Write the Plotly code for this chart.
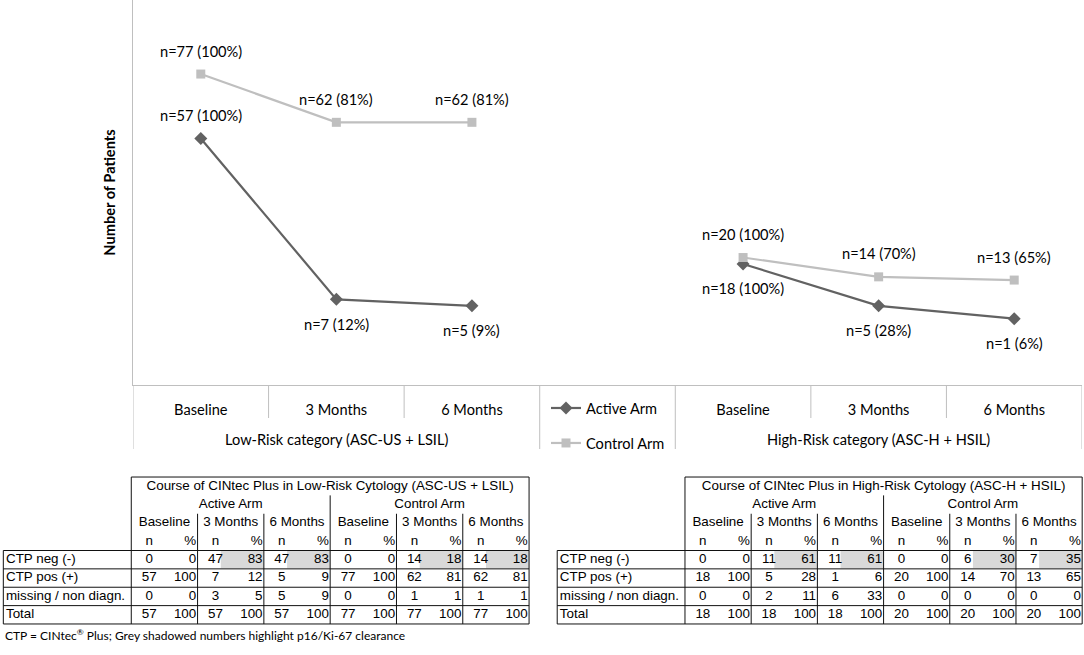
import plotly.graph_objects as go

# ---- chart data ----
timepoints = ["Baseline", "3 Months", "6 Months"]
group_labels = ["Low-Risk category (ASC-US + LSIL)", "High-Risk category (ASC-H + HSIL)"]

active_low_n = [57, 7, 5]
active_low_pct = [100, 12, 9]
control_low_n = [77, 62, 62]
control_low_pct = [100, 81, 81]
active_high_n = [18, 5, 1]
active_high_pct = [100, 28, 6]
control_high_n = [20, 14, 13]
control_high_pct = [100, 70, 65]

# ---- table data (n, % per time point: active arm then control arm) ----
row_labels = ["CTP neg (-)", "CTP pos (+)", "missing / non diagn.", "Total"]
low_neg = [0, 0, 47, 83, 47, 83, 0, 0, 14, 18, 14, 18]
low_pos = [57, 100, 7, 12, 5, 9, 77, 100, 62, 81, 62, 81]
low_missing = [0, 0, 3, 5, 5, 9, 0, 0, 1, 1, 1, 1]
low_total = [57, 100, 57, 100, 57, 100, 77, 100, 77, 100, 77, 100]
high_neg = [0, 0, 11, 61, 11, 61, 0, 0, 6, 30, 7, 35]
high_pos = [18, 100, 5, 28, 1, 6, 20, 100, 14, 70, 13, 65]
high_missing = [0, 0, 2, 11, 6, 33, 0, 0, 0, 0, 0, 0]
high_total = [18, 100, 18, 100, 18, 100, 20, 100, 20, 100, 20, 100]
shaded_blocks = [1, 2, 4, 5]
arms = ["Active Arm", "Control Arm"]
low_title = "Course of CINtec Plus in Low-Risk Cytology (ASC-US + LSIL)"
high_title = "Course of CINtec Plus in High-Risk Cytology (ASC-H + HSIL)"

W, H = 1084, 655
ACTIVE = "#626262"
CONTROL = "#BFBFBF"
AXIS = "#BFBFBF"
CFONT = "Lato"
TFONT = "Liberation Sans"
CSIZE = 14.6


def py(px):
    return 1 - px / H


fig = go.Figure()

low_x = [0, 1, 2]
high_x = [4, 5, 6]
series = [
    ("Active Arm", "active", ACTIVE, "diamond", 10,
     [(low_x, active_low_n, active_low_pct, ["above", "below", "below"]),
      (high_x, active_high_n, active_high_pct, ["below", "below", "below"])]),
    ("Control Arm", "control", CONTROL, "square", 9,
     [(low_x, control_low_n, control_low_pct, ["above", "above", "above"]),
      (high_x, control_high_n, control_high_pct, ["above", "above", "above"])]),
]

for name, grp, color, sym, msize, parts in series:
    for i, (xs, ns, pcts, where) in enumerate(parts):
        fig.add_trace(go.Scatter(
            x=xs, y=ns, mode="lines+markers", name=name,
            legendgroup=grp, showlegend=(i == 0),
            line=dict(color=color, width=2.2),
            marker=dict(symbol=sym, size=msize, color=color),
            hoverinfo="skip",
        ))
        for x, n, p, w in zip(xs, ns, pcts, where):
            fig.add_annotation(
                x=x, y=n, xref="x", yref="y", text=f"n={n} ({p}%)",
                showarrow=False, yshift=23 if w == "above" else -25,
                font=dict(family=CFONT, size=CSIZE, color="#000"),
            )

# group labels under the category axis
for cx, lab in zip([1, 5], group_labels):
    fig.add_annotation(x=cx, y=py(439), xref="x", yref="paper", text=lab,
                       showarrow=False, yanchor="middle",
                       font=dict(family=CFONT, size=CSIZE, color="#000"))

# separators in the category area
for sx in [-0.5, 2.5, 3.5, 6.5]:
    fig.add_shape(type="line", xref="x", yref="paper", x0=sx, x1=sx,
                  y0=py(385), y1=py(449), line=dict(color=AXIS, width=1))
for sx in [0.5, 1.5, 4.5, 5.5]:
    fig.add_shape(type="line", xref="x", yref="paper", x0=sx, x1=sx,
                  y0=py(385), y1=py(418), line=dict(color=AXIS, width=1))


# ---- tables ----
def add_table(xa, ya, title, rows, x_dom):
    xr, yr = "x" + xa[5:], "y" + ya[5:]
    tx, ty, tt, tp = [], [], [], []

    def put(x, y, t, pos="middle center"):
        tx.append(x); ty.append(y); tt.append(t); tp.append(pos)

    put(3, 0.5, title)
    for k, arm in enumerate(arms):
        put(1.5 + 3 * k, 1.5, arm)
    for b in range(6):
        put(b + 0.5, 2.5, timepoints[b % 3])
        put(b + 0.27, 3.5, "n")
        put(b + 0.98, 3.5, "%", "middle left")
    for r, (lab, vals) in enumerate(zip(row_labels, rows)):
        yy = 4.5 + r
        put(-1.89, yy, lab, "middle right")
        for b in range(6):
            put(b + 0.27, yy, str(vals[2 * b]))
            put(b + 0.98, yy, str(vals[2 * b + 1]), "middle left")

    for b in shaded_blocks:
        fig.add_shape(type="rect", xref=xr, yref=yr, x0=b + 0.35, x1=b + 1,
                      y0=4.03, y1=4.97, fillcolor="#D9D9D9", line_width=0,
                      layer="below")

    fig.add_trace(go.Scatter(
        x=tx, y=ty, text=tt, textposition=tp, mode="text",
        textfont=dict(family=TFONT, size=13.4, color="#000"),
        xaxis=xr, yaxis=yr, showlegend=False, hoverinfo="skip",
    ))

    lw = dict(color="#111", width=1)
    segs = [(0, 6, 0, 0), (-1.93, 6, 4, 4), (-1.93, 6, 5, 5), (-1.93, 6, 6, 6),
            (-1.93, 6, 7, 7), (-1.93, 6, 8, 8),
            (-1.93, -1.93, 4, 8), (0, 0, 0, 8), (6, 6, 0, 8), (3, 3, 1, 8)]
    for b in [1, 2, 4, 5]:
        segs.append((b, b, 2, 8))
    for x0, x1, y0, y1 in segs:
        fig.add_shape(type="line", xref=xr, yref=yr, x0=x0, x1=x1, y0=y0, y1=y1,
                      line=lw)

    fig.update_layout(**{
        xa: dict(domain=x_dom, range=[-1.98, 6.02], visible=False,
                 fixedrange=True, anchor=yr),
        ya: dict(domain=[py(624.9), py(476.1)], range=[8.05, -0.05],
                 visible=False, fixedrange=True, anchor=xr),
    })


add_table("xaxis2", "yaxis2", low_title,
          [low_neg, low_pos, low_missing, low_total], [0, 530.4 / W])
add_table("xaxis3", "yaxis3", high_title,
          [high_neg, high_pos, high_missing, high_total], [553.9 / W, 1083.5 / W])

fig.add_annotation(
    x=3 / W, y=py(645), xref="paper", yref="paper", xanchor="left",
    text="CTP = CINtec<sup>®</sup> Plus; Grey shadowed numbers highlight p16/Ki-67 clearance",
    showarrow=False, font=dict(family=CFONT, size=12, color="#000"),
)

fig.update_layout(
    width=W, height=H,
    margin=dict(l=0, r=0, t=0, b=0),
    paper_bgcolor="white", plot_bgcolor="white",
    xaxis=dict(
        domain=[133 / W, 1082 / W], range=[-0.5, 6.5],
        tickvals=low_x + high_x, ticktext=timepoints + timepoints,
        ticks="", ticklabelstandoff=11,
        tickfont=dict(family=CFONT, size=CSIZE, color="#000"),
        showgrid=False, zeroline=False,
        showline=True, linecolor=AXIS, linewidth=1, fixedrange=True,
    ),
    yaxis=dict(
        domain=[py(385), 1], range=[-19.6, 100],
        showticklabels=False, ticks="", showgrid=False, zeroline=False,
        showline=True, linecolor=AXIS, linewidth=1, fixedrange=True,
        title=dict(text="<b>Number of Patients</b>", standoff=12,
                   font=dict(family=CFONT, size=CSIZE, color="#000")),
    ),
    showlegend=True,
    legend=dict(
        x=546 / W, y=py(392), xanchor="left", yanchor="top",
        bgcolor="rgba(0,0,0,0)", borderwidth=0,
        font=dict(family=CFONT, size=CSIZE, color="#000"),
        traceorder="grouped", tracegroupgap=13, itemwidth=30,
    ),
)

# drop the page's default body margin so the figure sits at the window corner
fig.write_html("out.html", config={"displayModeBar": False},
               post_script="document.body.style.margin='0';")
